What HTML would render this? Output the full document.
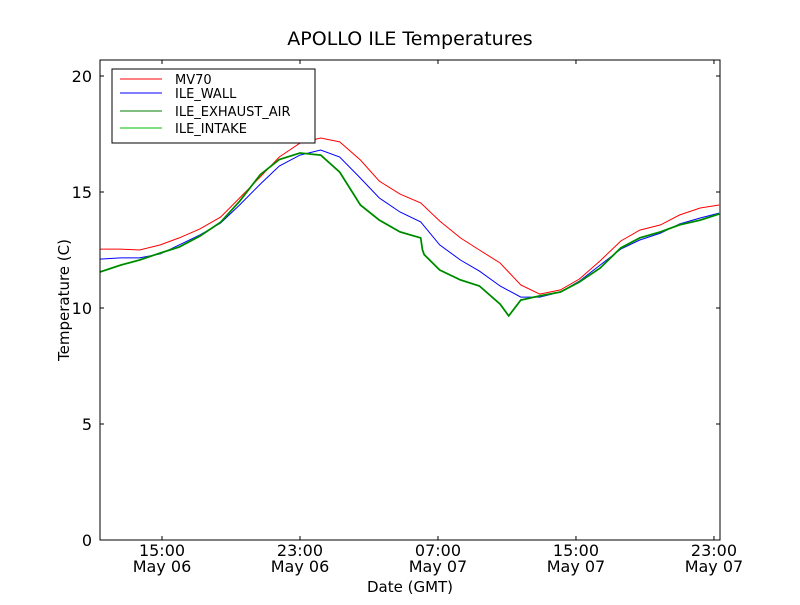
<!DOCTYPE html>
<html><head><meta charset="utf-8"><style>
body{margin:0;background:#fff;}
svg text{font-family:"DejaVu Sans","Liberation Sans",sans-serif;fill:#000;}
</style></head><body>
<svg id="chart" width="800" height="600">
<rect x="0" y="0" width="800" height="600" fill="#fff"/>
<text x="410" y="45" font-size="19" text-anchor="middle">APOLLO ILE Temperatures</text>
<g id="plot"></g>
<rect x="100" y="60" width="620" height="480" fill="none" stroke="#000" stroke-width="1"/>
<g id="axes"></g>
<text x="410" y="592" font-size="15" text-anchor="middle">Date (GMT)</text>
<text transform="translate(69,300) rotate(-90)" font-size="15" text-anchor="middle">Temperature (C)</text>
<g id="legend"></g>
</svg>
<script>
// hours since May 06 00:00 GMT
const times = [11.4,12.6,13.7,14.9,16.0,17.2,18.4,19.5,20.7,21.8,23.0,24.2,25.3,26.5,27.6,28.8,30.0,31.1,32.3,33.4,34.6,35.8,36.9,38.1,39.2,40.4,41.6,42.7,43.9,45.0,46.2,47.3];
const mv70 = [12.54,12.54,12.50,12.72,13.02,13.41,13.92,14.74,15.65,16.51,17.11,17.33,17.16,16.38,15.47,14.91,14.53,13.75,13.02,12.50,11.94,10.99,10.60,10.78,11.25,12.03,12.89,13.36,13.58,14.01,14.31,14.44];
const wall = [12.11,12.16,12.16,12.33,12.72,13.15,13.66,14.44,15.34,16.12,16.59,16.81,16.51,15.60,14.74,14.14,13.71,12.72,12.07,11.59,10.95,10.47,10.47,10.69,11.16,11.85,12.54,12.93,13.23,13.62,13.88,14.09];
const greenTimes = [11.4,12.6,13.7,14.9,16.0,17.2,18.4,19.5,20.7,21.8,23.0,24.2,25.3,26.5,27.6,28.8,30.0,30.1,30.2,31.1,32.3,33.4,34.6,35.1,35.8,36.9,38.1,39.2,40.4,41.6,42.7,43.9,45.0,46.2,47.3];
const exhaust = [11.55,11.85,12.07,12.37,12.63,13.10,13.70,14.60,15.75,16.40,16.68,16.59,15.86,14.44,13.79,13.28,13.02,12.5,12.3,11.64,11.21,10.95,10.17,9.66,10.34,10.52,10.69,11.12,11.72,12.59,13.02,13.28,13.58,13.79,14.05];
const intake = exhaust;
const yTicks = [0,5,10,15,20];
const xTickHours = [15,23,31,39,47];
const xTickTimes = ["15:00","23:00","07:00","15:00","23:00"];
const xTickDates = ["May 06","May 06","May 07","May 07","May 07"];

const X0=100,X1=720,Y0=540,Y1=60;
const tMin=11.406, tMax=47.35, vMin=0, vMax=20.69;
function xs(t){return X0+(t-tMin)/(tMax-tMin)*(X1-X0);}
function ys(v){return Y0-(v-vMin)/(vMax-vMin)*(Y0-Y1);}
const NS="http://www.w3.org/2000/svg";
const plot=document.getElementById('plot'), axes=document.getElementById('axes'), legend=document.getElementById('legend');
function line(ts,vs,color,name,w){
  const p=document.createElementNS(NS,'polyline');
  p.setAttribute('points',ts.map((t,i)=>xs(t).toFixed(1)+','+ys(vs[i]).toFixed(1)).join(' '));
  p.setAttribute('fill','none');p.setAttribute('stroke',color);p.setAttribute('stroke-width',w);
  
  
  plot.appendChild(p);
}
line(times,mv70,'#ff0000','series-mv70',1);
line(times,wall,'#0000ff','series-ile-wall',1);
line(greenTimes,intake,'#00bf00','series-ile-intake',1.8);
line(greenTimes,exhaust,'#007f00','series-ile-exhaust-air',1.3);

function mk(tag,attrs,parent,text){const e=document.createElementNS(NS,tag);for(const k in attrs)e.setAttribute(k,attrs[k]);if(text!==undefined)e.textContent=text;parent.appendChild(e);return e;}
yTicks.forEach(v=>{
  const y=ys(v);
  mk('line',{x1:X0,x2:X0+4,y1:y,y2:y,stroke:'#000'},axes);
  mk('line',{x1:X1-4,x2:X1,y1:y,y2:y,stroke:'#000'},axes);
  const t=mk('text',{x:X0-8,y:y+6,'font-size':16,'text-anchor':'end'},axes,String(v));
  
  
});
xTickHours.forEach((h,i)=>{
  const x=xs(h);
  mk('line',{x1:x,x2:x,y1:Y0,y2:Y0-4,stroke:'#000'},axes);
  mk('line',{x1:x,x2:x,y1:Y1,y2:Y1+4,stroke:'#000'},axes);
  const t=mk('text',{x:x,y:556,'font-size':16,'text-anchor':'middle'},axes,xTickTimes[i]);
  
  
  const d=mk('text',{x:x,y:572,'font-size':16,'text-anchor':'middle'},axes,xTickDates[i]);
  
  
});
mk('rect',{x:112,y:69,width:203,height:74,fill:'#fff',stroke:'#000'},legend);
const legNames=['MV70','ILE_WALL','ILE_EXHAUST_AIR','ILE_INTAKE'];
const legColors=['#ff0000','#0000ff','#007f00','#00bf00'];
const legY=[79,93,111,128];
legNames.forEach((n,i)=>{
  const g=mk('g',{},legend);
  
  
  mk('line',{x1:120,x2:162,y1:legY[i],y2:legY[i],stroke:legColors[i]},g);
  mk('text',{x:175,y:legY[i]+5,'font-size':13},g,n);
});
</script>
</body></html>
